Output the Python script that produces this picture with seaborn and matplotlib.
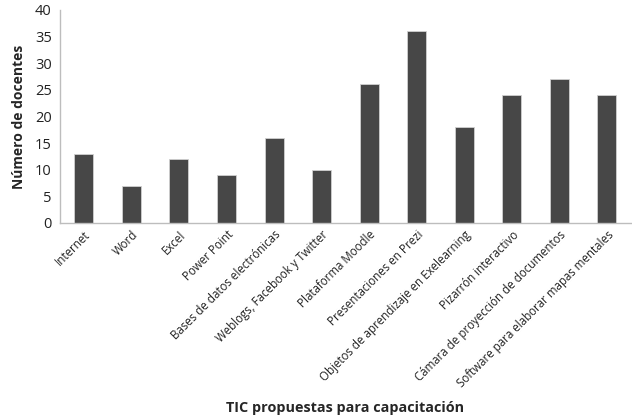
import matplotlib
matplotlib.use("Agg")
import matplotlib.pyplot as plt
import seaborn as sns
import pandas as pd

categorias = ["Internet", "Word", "Excel", "Power Point", "Bases de datos electrónicas",
              "Weblogs, Facebook y Twitter", "Plataforma Moodle", "Presentaciones en Prezi",
              "Objetos de aprendizaje en Exelearning", "Pizarrón interactivo",
              "Cámara de proyección de documentos", "Software para elaborar mapas mentales"]
docentes = [13, 7, 12, 9, 16, 10, 26, 36, 18, 24, 27, 24]

df = pd.DataFrame({"tic": categorias, "n": docentes})

sns.set_theme(style="white")
plt.rcParams["font.family"] = ["Open Sans", "DejaVu Sans"]

fig = plt.figure(figsize=(6.32, 4.15), dpi=100)
ax = fig.add_axes([0.095, 0.463, 0.903, 0.513])

sns.barplot(data=df, x="tic", y="n", color="#474747", width=0.4,
            edgecolor="#d0d0d0", linewidth=0.6, saturation=1, ax=ax)

ax.set_ylim(0, 40)
ax.set_yticks(range(0, 41, 5))
ax.tick_params(axis="y", labelsize=10.5, length=0, pad=6, colors="#222222")
ax.tick_params(axis="x", labelsize=8.3, length=0, pad=4, colors="#222222")
plt.setp(ax.get_xticklabels(), rotation=45, ha="right", rotation_mode="anchor")

for s in ["top", "right"]:
    ax.spines[s].set_visible(False)
for s in ["left", "bottom"]:
    ax.spines[s].set_color("#bdbdbd")
    ax.spines[s].set_linewidth(1)

ax.set_ylabel("Número de docentes", fontsize=10, fontweight="bold", labelpad=6)
ax.set_xlabel("")
fig.text(0.546, 0.008, "TIC propuestas para capacitación", ha="center",
         fontsize=10.4, fontweight="bold")

fig.savefig("out.png", dpi=100)
